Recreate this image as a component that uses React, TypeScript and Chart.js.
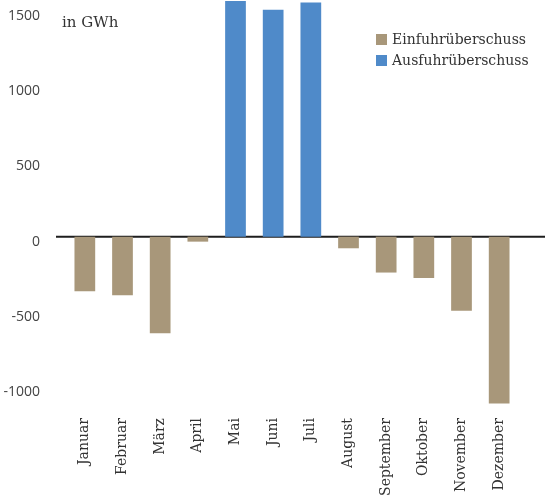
import React, { useEffect, useRef } from "react";
import { Chart, registerables } from "chart.js";

Chart.register(...registerables);

const months = ["Januar", "Februar", "März", "April", "Mai", "Juni", "Juli", "August", "September", "Oktober", "November", "Dezember"];
const einfuhr = [-362, -389, -640, -33, null, null, null, -77, -238, -274, -492, -1106];
const ausfuhr = [null, null, null, null, 1563, 1505, 1554, null, null, null, null, null];
const yTicks = [-1000, -500, 0, 500, 1000, 1500];
const seriesNames = ["Einfuhrüberschuss", "Ausfuhrüberschuss"];
const seriesColors = ["#a8977a", "#4f8ac9"];
const unitLabel = "in GWh";

const zeroLine = {
  id: "zeroLine",
  beforeDatasetsDraw(chart: any) {
    const { ctx, chartArea, scales } = chart;
    const y = scales.y.getPixelForValue(0);
    ctx.save();
    ctx.strokeStyle = "#1e1e1e";
    ctx.lineWidth = 2;
    ctx.beginPath();
    ctx.moveTo(chartArea.left - 10, y);
    ctx.lineTo(chart.width, y);
    ctx.stroke();
    ctx.restore();
  },
};

export default function App() {
  const ref = useRef<HTMLCanvasElement>(null);
  useEffect(() => {
    const chart = new Chart(ref.current!, {
      type: "bar",
      data: {
        labels: months,
        datasets: [
          { label: seriesNames[0], data: einfuhr, backgroundColor: seriesColors[0] },
          { label: seriesNames[1], data: ausfuhr, backgroundColor: seriesColors[1] },
        ],
      },
      plugins: [zeroLine],
      options: {
        animation: false,
        responsive: false,
        maintainAspectRatio: false,
        layout: { padding: { top: 0, right: 27, bottom: 0, left: 0 } },
        datasets: { bar: { grouped: false, categoryPercentage: 1, barPercentage: 0.55 } },
        plugins: { legend: { display: false }, tooltip: { enabled: false } },
        scales: {
          x: {
            grid: { display: false },
            border: { display: false },
            ticks: {
              minRotation: 90,
              maxRotation: 90,
              padding: 6,
              color: "#333",
              font: { family: "DejaVu Serif", size: 14 },
            },
            afterFit(scale: any) {
              scale.height = 91;
            },
          },
          y: {
            min: -1110,
            max: 1570,
            grid: { display: false },
            border: { display: false },
            afterBuildTicks(scale: any) {
              scale.ticks = yTicks.map((v) => ({ value: v }));
            },
            ticks: {
              color: "#444",
              padding: 18,
              labelOffset: 5,
              font: { family: "Open Sans", size: 14 },
              callback: (v: any) => String(v),
            },
            afterFit(scale: any) {
              scale.width = 66;
              scale.paddingTop = 0;
              scale.paddingBottom = 0;
            },
          },
        },
      },
    });
    return () => chart.destroy();
  }, []);

  return (
    <div style={{ position: "fixed", left: 0, top: 0, width: 545, height: 495, background: "#fff" }}>
      <canvas ref={ref} width={545} height={495} style={{ position: "absolute", left: 0, top: 0 }} />
      <div style={{ position: "absolute", left: 62, top: 13, fontFamily: "DejaVu Serif", fontSize: 15, color: "#333" }}>
        {unitLabel}
      </div>
      <div style={{ position: "absolute", left: 376, top: 29, fontFamily: "DejaVu Serif", fontSize: 14, color: "#333", lineHeight: "21px" }}>
        {seriesNames.map((n, i) => (
          <div key={n} style={{ display: "flex", alignItems: "center" }}>
            <span style={{ display: "inline-block", width: 11, height: 11, background: seriesColors[i], marginRight: 5 }} />
            {n}
          </div>
        ))}
      </div>
    </div>
  );
}
